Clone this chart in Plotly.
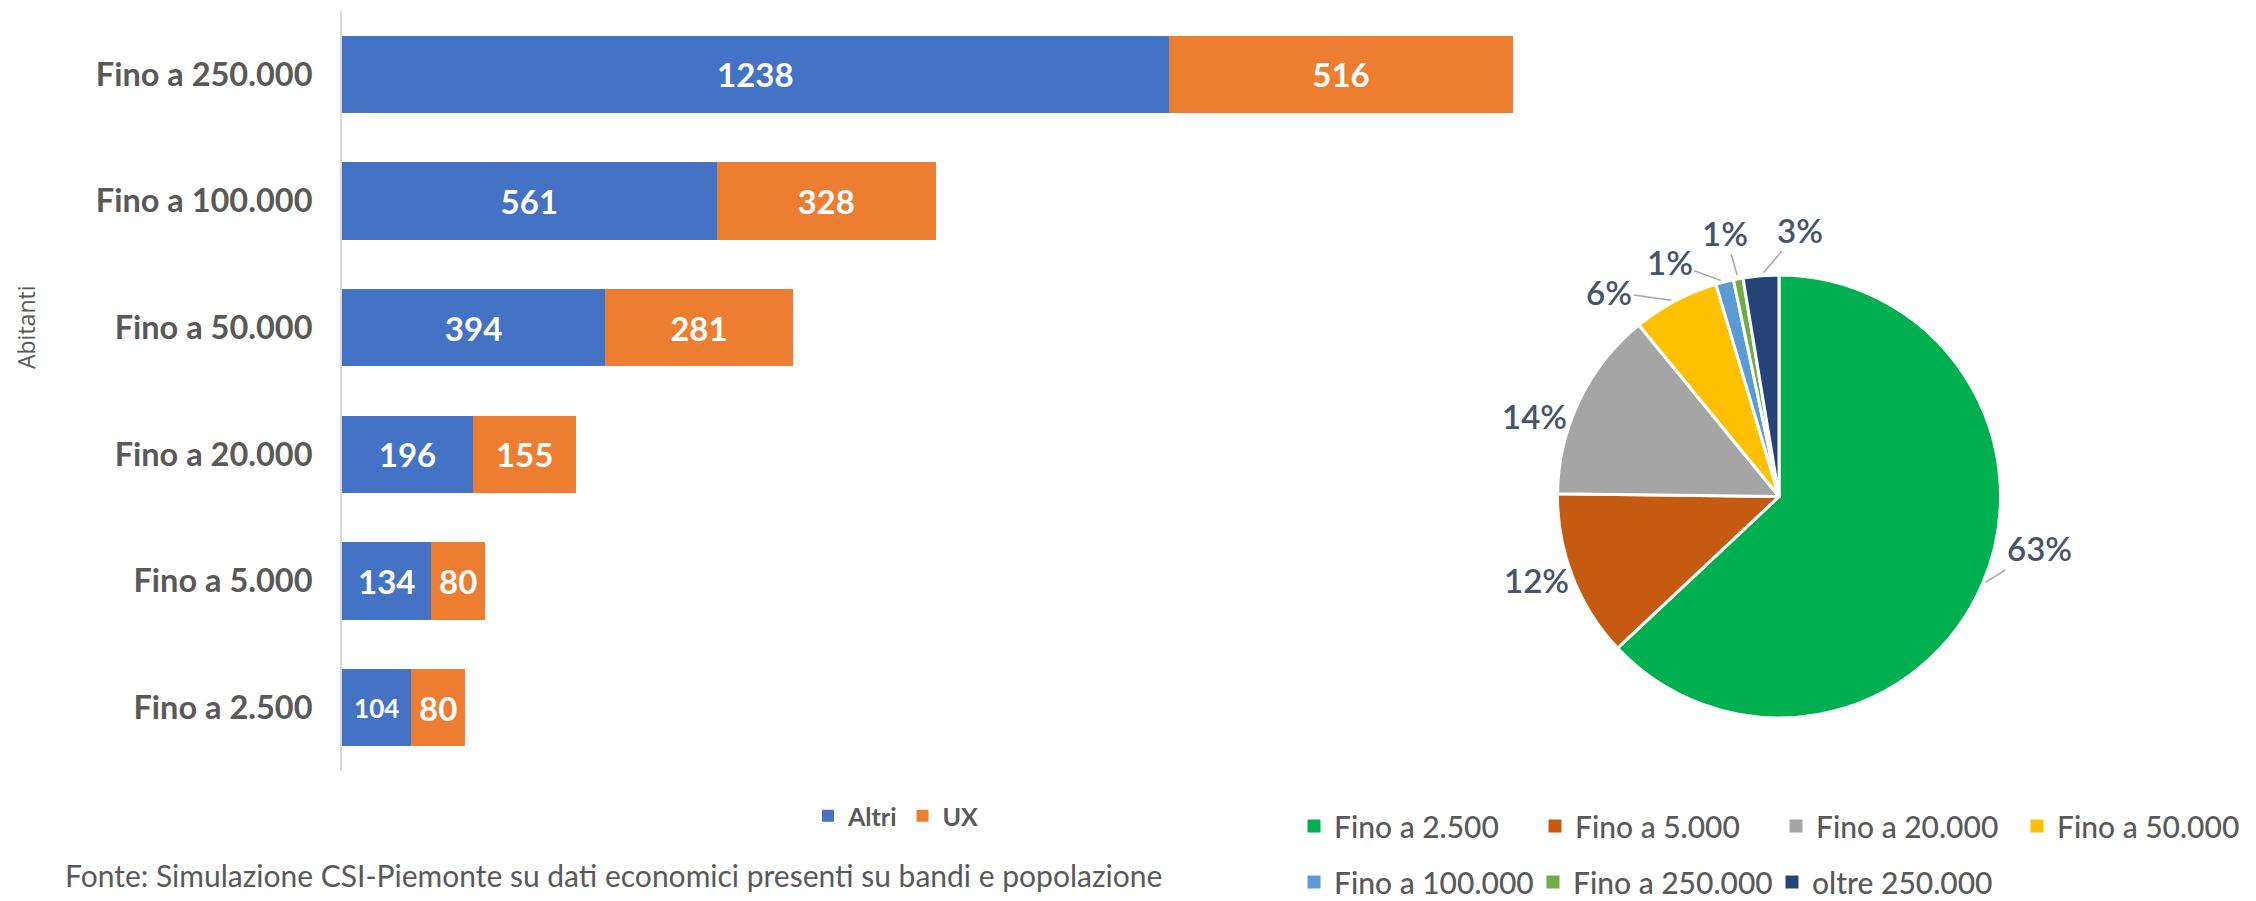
import math
import plotly.graph_objects as go

# ---------------- data ----------------
categories = ["Fino a 2.500", "Fino a 5.000", "Fino a 20.000",
              "Fino a 50.000", "Fino a 100.000", "Fino a 250.000"]
altri = [104, 134, 196, 394, 561, 1238]
ux = [80, 80, 155, 281, 328, 516]

pie_labels = ["Fino a 2.500", "Fino a 5.000", "Fino a 20.000", "Fino a 50.000",
              "Fino a 100.000", "Fino a 250.000", "oltre 250.000"]
pie_values = [63.0, 12.2, 13.9, 6.3, 1.3, 0.7, 2.6]

source_note = "Fonte: Simulazione CSI-Piemonte su dati economici presenti su bandi e popolazione"
y_title = "Abitanti"

# ---------------- styles ----------------
W, H = 2256, 901
FONT = "Lato, Carlito, Calibri, sans-serif"
GRAY = "#595959"
LABEL_BLUE = "#44546A"
bar_colors = {"Altri": "#4472C4", "UX": "#ED7D31"}
pie_colors = ["#00B050", "#C55A11", "#A5A5A5", "#FFC000", "#5B9BD5", "#70AD47", "#264478"]

# pie placement (pixels) and label offsets (pixels from slice edge, leader line flag)
PIE_X0, PIE_X1, PIE_TOP, PIE_BOT = 1557, 2001, 275, 718
label_offsets = [(57, -36, True), (-36, 3, False), (-45, 16, False), (-66, -9, True),
                 (-55, -20, True), (-13, -46, True), (39, -46, True)]


def px_x(p):
    return p / W


def px_y(p):
    return 1 - p / H


fig = go.Figure()

altri_sizes = [26 if v < 120 else 33 for v in altri]
fig.add_trace(go.Bar(
    y=categories, x=altri, orientation="h", name="Altri",
    marker=dict(color=bar_colors["Altri"], line=dict(width=0)),
    text=altri, textposition="inside", insidetextanchor="middle",
    textangle=0, constraintext="none",
    textfont=dict(family=FONT, size=altri_sizes, color="white", weight="bold"),
    legend="legend", hoverinfo="x+y",
))
fig.add_trace(go.Bar(
    y=categories, x=ux, orientation="h", name="UX",
    marker=dict(color=bar_colors["UX"], line=dict(width=0)),
    text=ux, textposition="inside", insidetextanchor="middle",
    textangle=0, constraintext="none",
    textfont=dict(family=FONT, size=33, color="white", weight="bold"),
    legend="legend", hoverinfo="x+y",
))

fig.add_trace(go.Pie(
    labels=pie_labels, values=pie_values, sort=False,
    direction="clockwise", rotation=0,
    marker=dict(colors=pie_colors, line=dict(color="white", width=3)),
    textinfo="none",
    showlegend=False,
    domain=dict(x=[px_x(PIE_X0), px_x(PIE_X1)], y=[px_y(PIE_BOT), px_y(PIE_TOP)]),
))

# legend entries for the pie, split into two rows like the original
for i, (lab, col) in enumerate(zip(pie_labels, pie_colors)):
    fig.add_trace(go.Scatter(
        x=[None], y=[None], mode="markers", name=lab,
        marker=dict(symbol="square", size=13, color=col),
        legend="legend2" if i < 4 else "legend3",
        hoverinfo="skip",
    ))

# percentage labels of the pie, anchored on each slice's outer edge
total = sum(pie_values)
cx = (PIE_X0 + PIE_X1) / 2
cy = (PIE_TOP + PIE_BOT) / 2
r = min(PIE_X1 - PIE_X0, PIE_BOT - PIE_TOP) / 2
annotations = []
cum = 0.0
for v, (ox, oy, leader) in zip(pie_values, label_offsets):
    mid = (cum + v / 2) / total * 2 * math.pi
    cum += v
    ex = cx + r * math.sin(mid)
    ey = cy - r * math.cos(mid)
    txt = f"{round(v / total * 100)}%"
    ann = dict(text=txt, x=px_x(ex), y=px_y(ey), xref="paper", yref="paper",
               font=dict(family=FONT, size=33, color=LABEL_BLUE, weight=600))
    if leader:
        ann.update(showarrow=True, ax=ox, ay=oy, axref="pixel", ayref="pixel",
                   arrowhead=0, arrowwidth=1.5, arrowcolor="#A6A6A6", standoff=4)
    else:
        ann.update(showarrow=False, xanchor="center", yanchor="middle",
                   xshift=ox, yshift=-oy)
    annotations.append(ann)

annotations += [
    dict(text=source_note, x=px_x(63), xanchor="left", y=px_y(875),
         yanchor="middle", xref="paper", yref="paper", showarrow=False,
         font=dict(family=FONT, size=30, color=GRAY)),
    dict(text=y_title, x=px_x(26), xanchor="center", y=px_y(327),
         yanchor="middle", xref="paper", yref="paper", showarrow=False,
         textangle=-90,
         font=dict(family="Open Sans, sans-serif", size=23, color=GRAY)),
]

fig.update_layout(
    width=W, height=H,
    margin=dict(l=0, r=0, t=0, b=0, autoexpand=False),
    paper_bgcolor="white", plot_bgcolor="white",
    barmode="stack", bargap=0.388,
    xaxis=dict(domain=[px_x(342), px_x(1540)], range=[0, 1794],
               visible=False, showgrid=False, zeroline=False),
    yaxis=dict(domain=[px_y(771), px_y(11)],
               categoryorder="array", categoryarray=categories,
               showline=True, linecolor="#D9D9D9", linewidth=2,
               showgrid=False, zeroline=False, ticks="",
               ticklabelstandoff=21,
               tickfont=dict(family=FONT, size=32.5, color=GRAY, weight="bold")),
    legend=dict(orientation="h", x=px_x(896), xanchor="center",
                y=px_y(816), yanchor="middle", traceorder="normal",
                font=dict(family=FONT, size=25, color=GRAY, weight="bold"),
                bgcolor="rgba(0,0,0,0)"),
    legend2=dict(orientation="h", x=px_x(1294), xanchor="left",
                 y=px_y(826), yanchor="middle", entrywidth=196,
                 font=dict(family=FONT, size=30, color=GRAY, weight=500),
                 bgcolor="rgba(0,0,0,0)"),
    legend3=dict(orientation="h", x=px_x(1294), xanchor="left",
                 y=px_y(882), yanchor="middle", entrywidth=194,
                 font=dict(family=FONT, size=30, color=GRAY, weight=500),
                 bgcolor="rgba(0,0,0,0)"),
    annotations=annotations,
)

fig.write_html(
    "out.html",
    config={"displayModeBar": False},
    post_script="document.body.style.margin='0';document.body.style.overflow='hidden';",
)
